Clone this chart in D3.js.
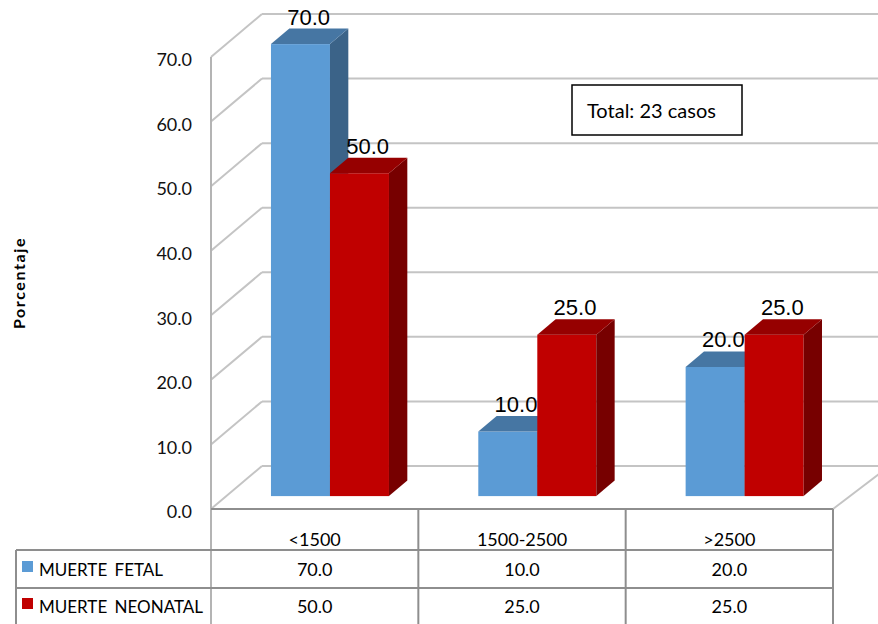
<!DOCTYPE html>
<html>
<head>
<meta charset="utf-8">
<script src="https://cdn.jsdelivr.net/npm/d3@7"></script>
<style>
  body { margin: 0; background: #fff; }
  svg { display: block; }
</style>
</head>
<body>
<div id="chart"></div>
<script>
var categories = ["<1500", "1500-2500", ">2500"];
var seriesNames = ["MUERTE FETAL", "MUERTE NEONATAL"];
var fetal = [70.0, 10.0, 20.0];
var neonatal = [50.0, 25.0, 25.0];
var yTicks = [0, 10, 20, 30, 40, 50, 60, 70];
var totalText = "Total: 23 casos";
var yTitle = "Porcentaje";

var colorFront = ["#5b9bd5", "#c00000"]
var colorTop = ["#4676a3", "#960000"]
var colorSide = ["#3b6388", "#770000"]
var gridColor = "#c4c4c4"
var tableColor = "#8e8e8e"
var font = "Lato, 'Noto Sans', sans-serif"

var W = 878, H = 624;
var x0 = 211, x1 = 833;     // front floor edge
var depthX = 51, depthY = -43; // offset front -> back wall
var barDepthStart = 0.3, barDepthLen = 0.36;
var barW = 59;

var svg = d3.select("#chart").append("svg").attr("width", W).attr("height", H)
var series = [fetal, neonatal];

var y = d3.scaleLinear().domain([0, 70]).range([509, 57]);
var x = d3.scaleBand().domain(categories).range([x0, x1]);
var dx = d3.scaleLinear().domain([0, 1]).range([0, depthX]);
var dy = d3.scaleLinear().domain([0, 1]).range([0, depthY]);

// walls / gridlines
var grid = svg.append("g")
grid.selectAll(".back").data(yTicks).enter().append("line")
  .attr("x1", x0 + dx(1)).attr("x2", W)
  .attr("y1", function(d){ return y(d) + dy(1) })
  .attr("y2", function(d){ return y(d) + dy(1) })
  .attr("stroke", gridColor).attr("stroke-width", 2)
grid.selectAll(".side").data(yTicks).enter().append("line")
  .attr("x1", x0).attr("x2", x0 + dx(1))
  .attr("y1", function(d){ return y(d) })
  .attr("y2", function(d){ return y(d) + dy(1) })
  .attr("stroke", gridColor).attr("stroke-width", 2)
grid.append("line")
  .attr("x1", x1).attr("y1", y(0))
  .attr("x2", x1 + dx(1)).attr("y2", y(0) + dy(0.9))
  .attr("stroke", gridColor).attr("stroke-width", 2)
grid.append("line")
  .attr("x1", x0).attr("x2", x0).attr("y1", y(70)).attr("y2", H)
  .attr("stroke", "#b4b4b4").attr("stroke-width", 2)

// y tick labels
svg.selectAll(".ytick").data(yTicks).enter().append("text")
  .attr("x", 192).attr("y", function(d){ return y(d) + 3 })
  .attr("dy", "0.35em")
  .attr("text-anchor", "end")
  .attr("font-family", font)
  .attr("font-size", 18).attr("fill", "#111")
  .text(function(d){ return d3.format(".1f")(d) })

svg.append("text")
  .attr("transform", "translate(25,283) rotate(-90)")
  .attr("text-anchor", "middle")
  .attr("font-family", font)
  .attr("font-weight", "bold").attr("font-size", 16)
  .attr("letter-spacing", "1.6px")
  .text(yTitle)

// 3d bars
var bars = svg.append("g")
var fx = dx(barDepthStart), fy = dy(barDepthStart);
var ox = dx(barDepthLen), oy = dy(barDepthLen);
categories.forEach(function(c, ci){
  var left = x(c) + (x.bandwidth() - barW * 2) / 2 + fx;
  series.forEach(function(s, si){
    var v = s[ci];
    var bx = left + si * barW;
    var top = y(v) + fy, bottom = y(0) + fy;
    var g = bars.append("g")
    g.append("rect").attr("x", bx).attr("y", top)
      .attr("width", barW).attr("height", bottom - top)
      .attr("fill", colorFront[si])
    g.append("path")
      .attr("d", "M" + (bx + barW) + "," + top + "L" + (bx + barW + ox) + "," + (top + oy) +
        "L" + (bx + barW + ox) + "," + (bottom + oy) + "L" + (bx + barW) + "," + bottom + "Z")
      .attr("fill", colorSide[si])
    g.append("path")
      .attr("d", "M" + bx + "," + top + "L" + (bx + ox) + "," + (top + oy) +
        "L" + (bx + barW + ox) + "," + (top + oy) + "L" + (bx + barW) + "," + top + "Z")
      .attr("fill", colorTop[si])
    g.append("text")
      .attr("x", bx + barW / 2 + ox / 2 - 1)
      .attr("y", top + oy - 4)
      .attr("text-anchor", "middle")
      .attr("font-family", "'Liberation Sans', Arial, sans-serif")
      .attr("font-size", 22).attr("fill", "#000")
      .text(d3.format(".1f")(v))
  })
})

// total box
svg.append("rect").attr("x", 572).attr("y", 85).attr("width", 170).attr("height", 50)
  .attr("fill", "#fff").attr("stroke", "#000").attr("stroke-width", 1.5)
svg.append("text").attr("x", 587).attr("y", 118)
  .attr("font-family", font).attr("font-size", 20)
  .text(totalText)

// data table
var tbl = svg.append("g")
var rowY = [509, 550, 588, 626];
tbl.append("line").attr("x1", x0).attr("x2", x1).attr("y1", rowY[0]).attr("y2", rowY[0])
  .attr("stroke", tableColor).attr("stroke-width", 2)
tbl.selectAll(".hl").data(rowY.slice(1)).enter().append("line")
  .attr("x1", 16).attr("x2", x1)
  .attr("y1", function(d){ return d }).attr("y2", function(d){ return d })
  .attr("stroke", tableColor).attr("stroke-width", 2)
tbl.append("line").attr("x1", 16).attr("x2", 16).attr("y1", rowY[1]).attr("y2", H)
  .attr("stroke", tableColor).attr("stroke-width", 2)
tbl.selectAll(".vl").data(categories).enter().append("line")
  .attr("x1", function(d){ return x(d) + x.bandwidth() })
  .attr("x2", function(d){ return x(d) + x.bandwidth() })
  .attr("y1", rowY[0]).attr("y2", H)
  .attr("stroke", tableColor).attr("stroke-width", 2)

tbl.selectAll(".cat").data(categories).enter().append("text")
  .attr("x", function(d){ return x(d) + x.bandwidth() / 2 })
  .attr("y", 540).attr("dy", "0.35em")
  .attr("text-anchor", "middle")
  .attr("font-family", font).attr("font-size", 18)
  .text(function(d){ return d })

series.forEach(function(s, si){
  var cy = si == 0 ? 570 : 607;
  tbl.append("rect").attr("x", 22).attr("y", cy - 9).attr("width", 11).attr("height", 11)
    .attr("fill", colorFront[si])
  tbl.append("text").attr("x", 39).attr("y", cy).attr("dy", "0.35em")
    .attr("font-family", font).attr("font-size", 17)
    .attr("word-spacing", "3px")
    .text(seriesNames[si])
  tbl.selectAll(".v" + si).data(s).enter().append("text")
    .attr("x", function(d, i){ return x(categories[i]) + x.bandwidth() / 2 })
    .attr("y", cy).attr("dy", "0.35em")
    .attr("text-anchor", "middle")
    .attr("font-family", font).attr("font-size", 18)
    .text(function(d){ return d3.format(".1f")(d) })
})
</script>
</body>
</html>
